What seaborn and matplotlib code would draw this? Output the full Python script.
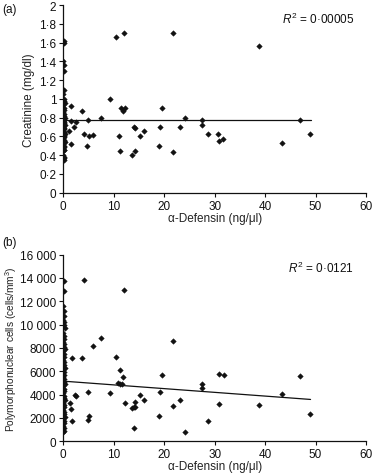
import numpy as np
import pandas as pd
import matplotlib
matplotlib.use('Agg')
import matplotlib.pyplot as plt
from matplotlib.ticker import FuncFormatter
import seaborn as sns

# ---- panel (a): creatinine ----
# values at alpha-defensin ~ 0
a_zero_y = [1.62, 1.60, 1.40, 1.36, 1.30, 1.10, 1.05, 1.00, 0.98, 0.96, 0.93, 0.90,
            0.88, 0.86, 0.84, 0.82, 0.80, 0.79, 0.78, 0.77, 0.76, 0.75, 0.74, 0.72,
            0.70, 0.69, 0.68, 0.66, 0.65, 0.64, 0.63, 0.62, 0.60, 0.59, 0.58, 0.56,
            0.55, 0.54, 0.52, 0.50, 0.49, 0.48, 0.46, 0.45, 0.40, 0.38, 0.37, 0.36, 0.35]
a_zero_x = [0.1, 0.2, 0.0, 0.2, 0.1, 0.1, 0.0, 0.2, 0.1, 0.3, 0.0, 0.2,
            0.1, 0.0, 0.2, 0.1, 0.3, 0.0, 0.2, 0.1, 0.0, 0.2, 0.1, 0.3,
            0.0, 0.2, 0.1, 0.0, 0.2, 0.1, 0.3, 0.0, 0.2, 0.1, 0.0, 0.2,
            0.1, 0.3, 0.0, 0.2, 0.1, 0.0, 0.2, 0.1, 0.0, 0.2, 0.1, 0.0, 0.2]
a_x = [1.5, 3.7, 1.1, 1.5, 2.5, 2.2, 1.6, 4.2, 5.0, 5.2, 5.8, 4.8, 7.5, 9.3,
       10.4, 12.0, 11.4, 11.9, 12.2, 11.0, 11.3, 13.7, 14.0, 14.3, 14.3, 15.2,
       16.0, 18.9, 19.2, 19.6, 21.7, 21.7, 23.2, 24.1, 27.4, 27.4, 28.6, 30.7,
       30.9, 31.7, 38.7, 43.3, 47.0, 48.8]
a_y = [0.92, 0.87, 0.66, 0.76, 0.75, 0.70, 0.52, 0.63, 0.77, 0.60, 0.61, 0.50,
       0.80, 1.00, 1.66, 1.70, 0.90, 0.87, 0.90, 0.60, 0.44, 0.40, 0.70, 0.69,
       0.44, 0.60, 0.66, 0.50, 0.70, 0.90, 1.70, 0.43, 0.70, 0.80, 0.77, 0.72,
       0.63, 0.63, 0.55, 0.57, 1.57, 0.53, 0.78, 0.63]
a_fit_x = [0, 49]
a_fit_y = [0.77, 0.77]
a_r2 = '0·00005'

# ---- panel (b): polymorphonuclear cells ----
b_zero_y = [13700, 12900, 11600, 11200, 10700, 10400, 10200, 10000, 9700, 9300,
            9000, 8800, 8500, 8300, 8100, 7900, 7700, 7500, 7200, 7000, 6800, 6500,
            6300, 6100, 5900, 5700, 5500, 5300, 5100, 4900, 4700, 4500, 4300, 4100,
            3900, 3700, 3500, 3300, 3100, 2900, 2700, 2500, 2300, 2100, 1900, 1700,
            1600, 1300, 1100, 900, 800]
b_zero_x = [0.2, 0.1, 0.0, 0.2, 0.1, 0.0, 0.2, 0.1, 0.3, 0.0, 0.2, 0.1, 0.0,
            0.2, 0.1, 0.3, 0.0, 0.2, 0.1, 0.0, 0.2, 0.1, 0.3, 0.0, 0.2, 0.1,
            0.0, 0.2, 0.1, 0.3, 0.0, 0.2, 0.1, 0.0, 0.2, 0.1, 0.3, 0.0, 0.2,
            0.1, 0.0, 0.2, 0.1, 0.3, 0.0, 0.2, 0.1, 0.0, 0.2, 0.1, 0.0]
b_x = [1.65, 3.7, 4.2, 5.8, 7.5, 1.25, 1.45, 1.65, 2.25, 2.6, 5.0, 4.9, 5.2,
       9.3, 10.4, 11.2, 10.9, 11.2, 11.6, 11.9, 12.0, 12.2, 13.7, 14.0, 14.2,
       14.2, 14.0, 15.2, 16.0, 18.9, 19.2, 19.6, 21.7, 21.7, 23.2, 24.1, 27.4,
       27.4, 28.6, 30.9, 30.9, 31.8, 38.7, 43.3, 46.9, 48.8]
b_y = [7110, 7170, 13860, 8170, 8890, 3290, 2800, 1770, 3970, 3910, 4260, 1800,
       2170, 4170, 7200, 6110, 5000, 4940, 4910, 5490, 13000, 3290, 2830, 2910,
       3400, 2970, 1110, 3970, 3570, 2200, 4230, 5690, 8600, 3000, 3570, 770,
       4890, 4600, 1690, 5800, 3230, 5690, 3110, 4090, 5600, 2370]
b_fit_x = [0, 49]
b_fit_y = [5150, 3580]
b_r2 = '0·0121'

sns.set_style('white')
plt.rcParams['font.family'] = ['Liberation Sans', 'DejaVu Sans']
plt.rcParams['mathtext.fontset'] = 'custom'
plt.rcParams['mathtext.it'] = 'Liberation Sans:italic'
plt.rcParams['mathtext.rm'] = 'Liberation Sans'

fig = plt.figure(figsize=(3.72, 4.77), dpi=100)
ax_a = fig.add_axes([0.170, 0.594, 0.814, 0.393])
ax_b = fig.add_axes([0.170, 0.073, 0.814, 0.391])

fs = 8.5


def dot_fmt(v, pos):
    s = f'{v:g}'
    return s.replace('.', '·')


def thou_fmt(v, pos):
    v = int(round(v))
    if v >= 10000:
        return f'{v // 1000} {v % 1000:03d}'
    return str(v)


def draw_panel(ax, zx, zy, px, py, fx, fy, r2, ylim, yticks, fmt, ylabel,
               ylab_fs, ylab_pad, tag, tag_y):
    df = pd.DataFrame({'x': zx + px, 'y': zy + py})
    sns.scatterplot(data=df, x='x', y='y', ax=ax, marker='D', s=8,
                    color='#111111', edgecolor='#111111', linewidth=0.3)
    fit = pd.DataFrame({'x': fx, 'y': fy})
    sns.lineplot(data=fit, x='x', y='y', ax=ax, color='#111111', linewidth=0.9)
    ax.set_xlim(0, 60)
    ax.set_ylim(*ylim)
    ax.set_xticks(range(0, 61, 10))
    ax.set_yticks(yticks)
    ax.yaxis.set_major_formatter(FuncFormatter(fmt))
    for side in ['top', 'right']:
        ax.spines[side].set_visible(False)
    for side in ['left', 'bottom']:
        ax.spines[side].set_color('#111111')
        ax.spines[side].set_linewidth(0.9)
    ax.tick_params(axis='both', direction='out', length=3, width=0.8,
                   colors='#111111', labelsize=fs, pad=2, left=True, bottom=True)
    ax.set_xlabel('α-Defensin (ng/μl)', fontsize=fs, color='#222222', labelpad=0)
    ax.set_ylabel(ylabel, fontsize=ylab_fs, color='#222222', labelpad=ylab_pad)
    ax.text(0.96, 0.93, '$R^2$ = ' + r2, transform=ax.transAxes, ha='right',
            va='center', fontsize=fs, color='#111111')
    ax.text(-0.202, tag_y, tag, transform=ax.transAxes, ha='left', va='center',
            fontsize=fs, color='#111111')


draw_panel(ax_a, a_zero_x, a_zero_y, a_x, a_y, a_fit_x, a_fit_y, a_r2,
           (0, 2), np.arange(0, 2.01, 0.2), dot_fmt, 'Creatinine (mg/dl)',
           fs, 3, '(a)', 0.98)
draw_panel(ax_b, b_zero_x, b_zero_y, b_x, b_y, b_fit_x, b_fit_y, b_r2,
           (0, 16000), range(0, 16001, 2000), thou_fmt,
           'Polymorphonuclear cells (cells/mm$^3$)', 7.3, 1, '(b)', 1.068)

fig.savefig('out.png', dpi=100)
